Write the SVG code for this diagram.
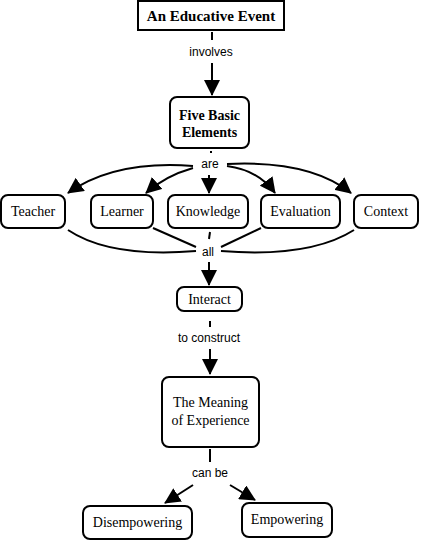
<svg xmlns="http://www.w3.org/2000/svg" width="421" height="542" viewBox="0 0 421 542">
<defs>
<marker id="ah" viewBox="0 0 16 16" refX="15" refY="8" markerWidth="16" markerHeight="16" markerUnits="userSpaceOnUse" orient="auto">
<path d="M0,0 L16,8 L0,16 Z" fill="#000"/>
</marker>
</defs>
<style>
.box{fill:#fff;stroke:#000;stroke-width:2}
.t{font-family:"Liberation Serif","Times New Roman",serif;font-size:14px;fill:#000;text-anchor:middle}
.tb{font-family:"Liberation Serif","Times New Roman",serif;font-size:14px;font-weight:bold;fill:#000;text-anchor:middle}
.lbl{font-family:"Liberation Sans",Arial,sans-serif;font-size:12px;fill:#000;text-anchor:middle}
.ln{fill:none;stroke:#000;stroke-width:2}
.arr{fill:none;stroke:#000;stroke-width:2;marker-end:url(#ah)}
</style>
<rect width="421" height="542" fill="#fff"/>
<g id="connectors">
<line class="ln" x1="212" y1="32" x2="212" y2="40"/>
<text class="lbl" x="211" y="56">involves</text>
<line class="arr" x1="212" y1="63" x2="212" y2="95"/>
<line class="ln" x1="211" y1="151" x2="211" y2="153"/>
<text class="lbl" x="210" y="168">are</text>
<path class="arr" d="M193,166 Q115,160 68,193"/>
<path class="arr" d="M193,168 Q165,176 146,193"/>
<line class="arr" x1="209" y1="175" x2="209" y2="193"/>
<path class="arr" d="M227,166 Q258,170 275,193"/>
<path class="arr" d="M227,164 Q310,160 351,193"/>
<path class="ln" d="M68,230 Q110,258 196,251"/>
<line class="ln" x1="153" y1="228" x2="196" y2="247"/>
<line class="ln" x1="210" y1="232" x2="209" y2="239"/>
<line class="ln" x1="261" y1="228" x2="221" y2="247"/>
<path class="ln" d="M354,230 Q310,258 221,251"/>
<text class="lbl" x="208" y="256">all</text>
<line class="ln" x1="209" y1="262" x2="209" y2="266"/>
<line class="arr" x1="209" y1="266" x2="209" y2="285"/>
<line class="ln" x1="210" y1="321" x2="210" y2="327"/>
<text class="lbl" x="209" y="342">to construct</text>
<line class="arr" x1="210" y1="349" x2="210" y2="374"/>
<line class="ln" x1="210" y1="449" x2="210" y2="462"/>
<text class="lbl" x="210" y="477">can be</text>
<line class="arr" x1="193" y1="485" x2="165" y2="503"/>
<line class="arr" x1="230" y1="485" x2="255" y2="500"/>
</g>
<g id="n-event">
<rect class="box" x="138" y="1" width="146" height="29"/>
<text class="tb" style="font-size:15px" x="211" y="21">An Educative Event</text>
</g>
<g id="n-five">
<rect class="box" x="170" y="97" width="79" height="51" rx="7"/>
<text class="tb" x="209.5" y="120">Five Basic</text>
<text class="tb" x="209.5" y="137">Elements</text>
</g>
<g id="n-teacher">
<rect class="box" x="1" y="195" width="64" height="33" rx="7"/>
<text class="t" x="33" y="216">Teacher</text>
</g>
<g id="n-learner">
<rect class="box" x="91" y="195" width="62" height="33" rx="7"/>
<text class="t" x="122" y="216">Learner</text>
</g>
<g id="n-knowledge">
<rect class="box" x="168" y="195" width="80" height="33" rx="7"/>
<text class="t" x="208" y="216">Knowledge</text>
</g>
<g id="n-evaluation">
<rect class="box" x="261" y="195" width="79" height="33" rx="7"/>
<text class="t" x="300.5" y="216">Evaluation</text>
</g>
<g id="n-context">
<rect class="box" x="354" y="195" width="64" height="33" rx="7"/>
<text class="t" x="386" y="216">Context</text>
</g>
<g id="n-interact">
<rect class="box" x="177" y="287" width="65" height="24" rx="7"/>
<text class="t" x="209.5" y="304">Interact</text>
</g>
<g id="n-meaning">
<rect class="box" x="162" y="377" width="97" height="70" rx="7"/>
<text class="t" x="210.5" y="407">The Meaning</text>
<text class="t" x="210.5" y="425">of Experience</text>
</g>
<g id="n-disempowering">
<rect class="box" x="83" y="506" width="109" height="33" rx="7"/>
<text class="t" x="137.5" y="527">Disempowering</text>
</g>
<g id="n-empowering">
<rect class="box" x="242" y="503" width="90" height="34" rx="7"/>
<text class="t" x="287" y="524">Empowering</text>
</g>
</svg>
